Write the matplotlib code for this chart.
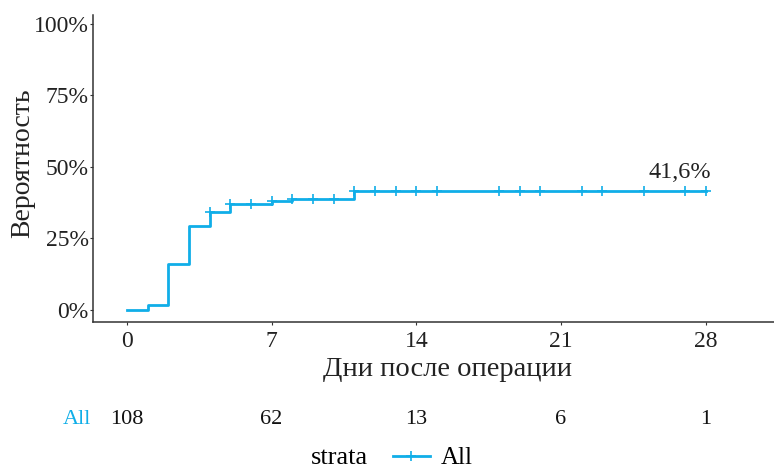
import numpy as np
import matplotlib
matplotlib.use("Agg")
import matplotlib.pyplot as plt
from matplotlib.lines import Line2D
from matplotlib.offsetbox import HPacker

plt.rcParams['font.family'] = ['Liberation Serif', 'DejaVu Serif']

# cumulative incidence curve (step, post)
times = [0, 1, 2, 3, 4, 5, 7, 8, 11, 28]
cuminc = [0.0, 0.0185, 0.162, 0.295, 0.341, 0.371, 0.380, 0.389, 0.416, 0.416]
# censoring marks (days)
censor_times = [4, 5, 6, 7, 8, 9, 10, 11, 12, 13, 14, 15, 18, 19, 20, 22, 23, 25, 27, 28]
# number at risk
risk_times = [0, 7, 14, 21, 28]
risk_counts = [108, 62, 13, 6, 1]
x_ticks = [0, 7, 14, 21, 28]
y_ticks = [0, 0.25, 0.5, 0.75, 1.0]
y_ticklabels = ['0%', '25%', '50%', '75%', '100%']
final_label = '41,6%'

col = '#10aee8'
W, H = 774, 469
fig = plt.figure(figsize=(W / 100, H / 100), dpi=100)

ax = fig.add_axes([93 / W, 1 - 322 / H, (W - 93) / W, (322 - 15) / H])
ax.step(times, cuminc, where='post', color=col, lw=2)
idx = np.searchsorted(times, censor_times, side='right') - 1
cy = np.array(cuminc)[idx]
ax.plot(censor_times, cy, ls='none', marker='+', ms=7, mew=1.2, color=col)
ax.text(28.25, 0.443, final_label, ha='right', va='bottom', fontsize=17.5, color='#222222')

ax.set_xlim(-1.64, 31.3)
ax.set_ylim(-0.042, 1.031)
ax.set_xticks(x_ticks)
ax.set_yticks(y_ticks)
ax.set_yticklabels(y_ticklabels)
ax.tick_params(labelsize=17, length=2.5, color='#333333', labelcolor='#222222')
ax.tick_params(axis='y', pad=0.5)
ax.tick_params(axis='x', pad=4)
for s in ['top', 'right']:
    ax.spines[s].set_visible(False)
for s in ['left', 'bottom']:
    ax.spines[s].set_color('#333333')
    ax.spines[s].set_linewidth(1.1)
ax.set_xlabel('Дни после операции', fontsize=20.5, color='#222222')
ax.set_ylabel('Вероятность', fontsize=20, color='#222222')
ax.xaxis.set_label_coords(0.521, -0.115)
ax.yaxis.set_label_coords(-0.085, 0.518)

# risk table
rax = fig.add_axes([93 / W, 1 - 435 / H, (W - 93) / W, 30 / H])
rax.set_xlim(-1.64, 31.3)
rax.set_ylim(0, 1)
rax.axis('off')
for t, n in zip(risk_times, risk_counts):
    rax.text(t, 0.5, str(n), ha='center', va='center', fontsize=16, color='#111111')
rax.text(-2.4, 0.5, 'All', ha='center', va='center', fontsize=16, color=col)

# legend
handle = Line2D([], [], color=col, lw=2, marker='+', ms=7, mew=1.2)
leg = fig.legend([handle], ['All'], title='strata', loc='center',
                 bbox_to_anchor=(0.5 + 5 / W, 1 - 458 / H),
                 frameon=False, fontsize=18, title_fontsize=19, handlelength=1.45,
                 handletextpad=0.45)
box = leg._legend_box
box.__class__ = HPacker
box.sep = 18
box.align = 'center'

fig.savefig('out.png', dpi=100)
